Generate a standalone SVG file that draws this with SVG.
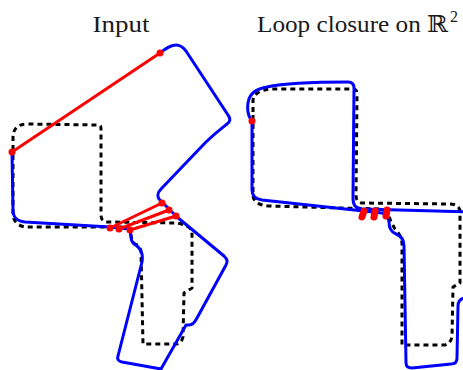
<svg xmlns="http://www.w3.org/2000/svg" width="463" height="370" viewBox="0 0 463 370">
  <style>
    .title { font-family: "Liberation Serif", "DejaVu Serif", serif; font-size: 23px; fill: #1a1a1a; }
    .truth { fill: none; stroke: #000; stroke-width: 3; stroke-dasharray: 5 4; stroke-linejoin: round; }
    .est { fill: none; stroke: #0000ff; stroke-width: 3; stroke-linejoin: round; stroke-linecap: round; }
    .closure { stroke: #ff0000; stroke-width: 3; stroke-linecap: round; }
    .pt { fill: #ff0000; }
    .blob { stroke: #ff0000; stroke-width: 7; stroke-linecap: round; }
  </style>

  <!-- panel titles -->
  <text class="title" x="121" y="32" text-anchor="middle" textLength="57" lengthAdjust="spacingAndGlyphs">Input</text>
  <text class="title" x="257" y="32"><tspan textLength="191" lengthAdjust="spacingAndGlyphs">Loop closure on ℝ</tspan><tspan x="450" y="22" font-size="16">2</tspan></text>

  <!-- left panel: raw odometry with candidate loop closures -->
  <g id="input-panel">
    <path id="input-truth" class="truth" d="M13,150 L13,137 C13,129 18,124 27,124 L99,125 C101,125 101,127 101,129 L101,215 C101,219 103,222 107,222 L175,223 C181,223 191,227 192,231 L192,288 L184,293 L183,337 C182,341 180,343 177,344 L143,344 L141,252 C141,248 138,245 135,244 L132,241 L130,230 C130,228 128,227 126,227 L25,227 C19,226 13,222 13,214 Z"/>
    <path id="input-trajectory" class="est" d="M160,53 C165,49 170,45 176,45 C180,45 183,47 186,51 L228,115 C231,119 230,122 227,124 C222,128 214,134 205,143 L161,189 C158,192 157,196 159,199 L177,217 L224,256 C227,259 228,261 226,265 L197,318 C195,322 193,325 189,325 L186,325 L161,369 L122,362 C118,361 117,359 118,356 L142,262 C143,256 142,250 137,246 L134,244 C132,242 131,240 131,237 L130,229 L110,227 L25,222 C17,221 13,218 13,210 L12,152"/>
    <g id="input-closures">
      <line class="closure" x1="160" y1="53" x2="12" y2="152"/>
      <line class="closure" x1="110" y1="228" x2="162" y2="203"/>
      <line class="closure" x1="119" y1="229" x2="169" y2="210"/>
      <line class="closure" x1="130" y1="230" x2="176" y2="216"/>
      <circle class="pt" cx="160" cy="53" r="3.5"/>
      <circle class="pt" cx="12" cy="152" r="3.5"/>
      <circle class="pt" cx="110" cy="228" r="3.5"/>
      <circle class="pt" cx="162" cy="203" r="3.5"/>
      <circle class="pt" cx="119" cy="229" r="3.5"/>
      <circle class="pt" cx="169" cy="210" r="3.5"/>
      <circle class="pt" cx="130" cy="230" r="3.5"/>
      <circle class="pt" cx="176" cy="216" r="3.5"/>
    </g>
  </g>

  <!-- right panel: trajectory after loop closure -->
  <g id="closed-panel">
    <path id="closed-truth" class="truth" d="M253,112 L253,100 C254,94 260,90 270,89 L353,89 C356,89 357,91 357,94 L356,195 C356,200 358,203 363,203 L450,204 C456,204 460,207 460,212 L460,283 L453,287 L452,337 C451,341 449,344 445,345 L402,345 L402,244 C402,238 399,233 395,229 L391,222 C389,215 386,210 380,209 L268,206 C258,205 253,201 253,195 Z"/>
    <path id="closed-trajectory" class="est" d="M252,121 C248,116 247,110 248,103 C249,95 255,89 267,87 C285,83 310,82 348,82 C352,82 354,84 354,88 L353,198 C353,205 355,208 362,209 L470,212 L470,297 L464,298 C460,299 458,302 458,306 L457,358 C457,362 455,364 451,364 L412,368 C408,368 406,366 406,363 L404,246 C404,240 401,236 396,234 C391,232 389,228 389,222 L388,218 C388,215 386,214 382,213 L262,200 C255,199 252,196 252,190 Z"/>
    <g id="closed-closures">
      <circle class="pt" cx="252" cy="121" r="3.5"/>
      <line class="blob" x1="364" y1="211" x2="362" y2="217"/>
      <line class="blob" x1="375" y1="211" x2="374" y2="217"/>
      <line class="blob" x1="387" y1="210" x2="386" y2="216"/>
    </g>
  </g>
</svg>
